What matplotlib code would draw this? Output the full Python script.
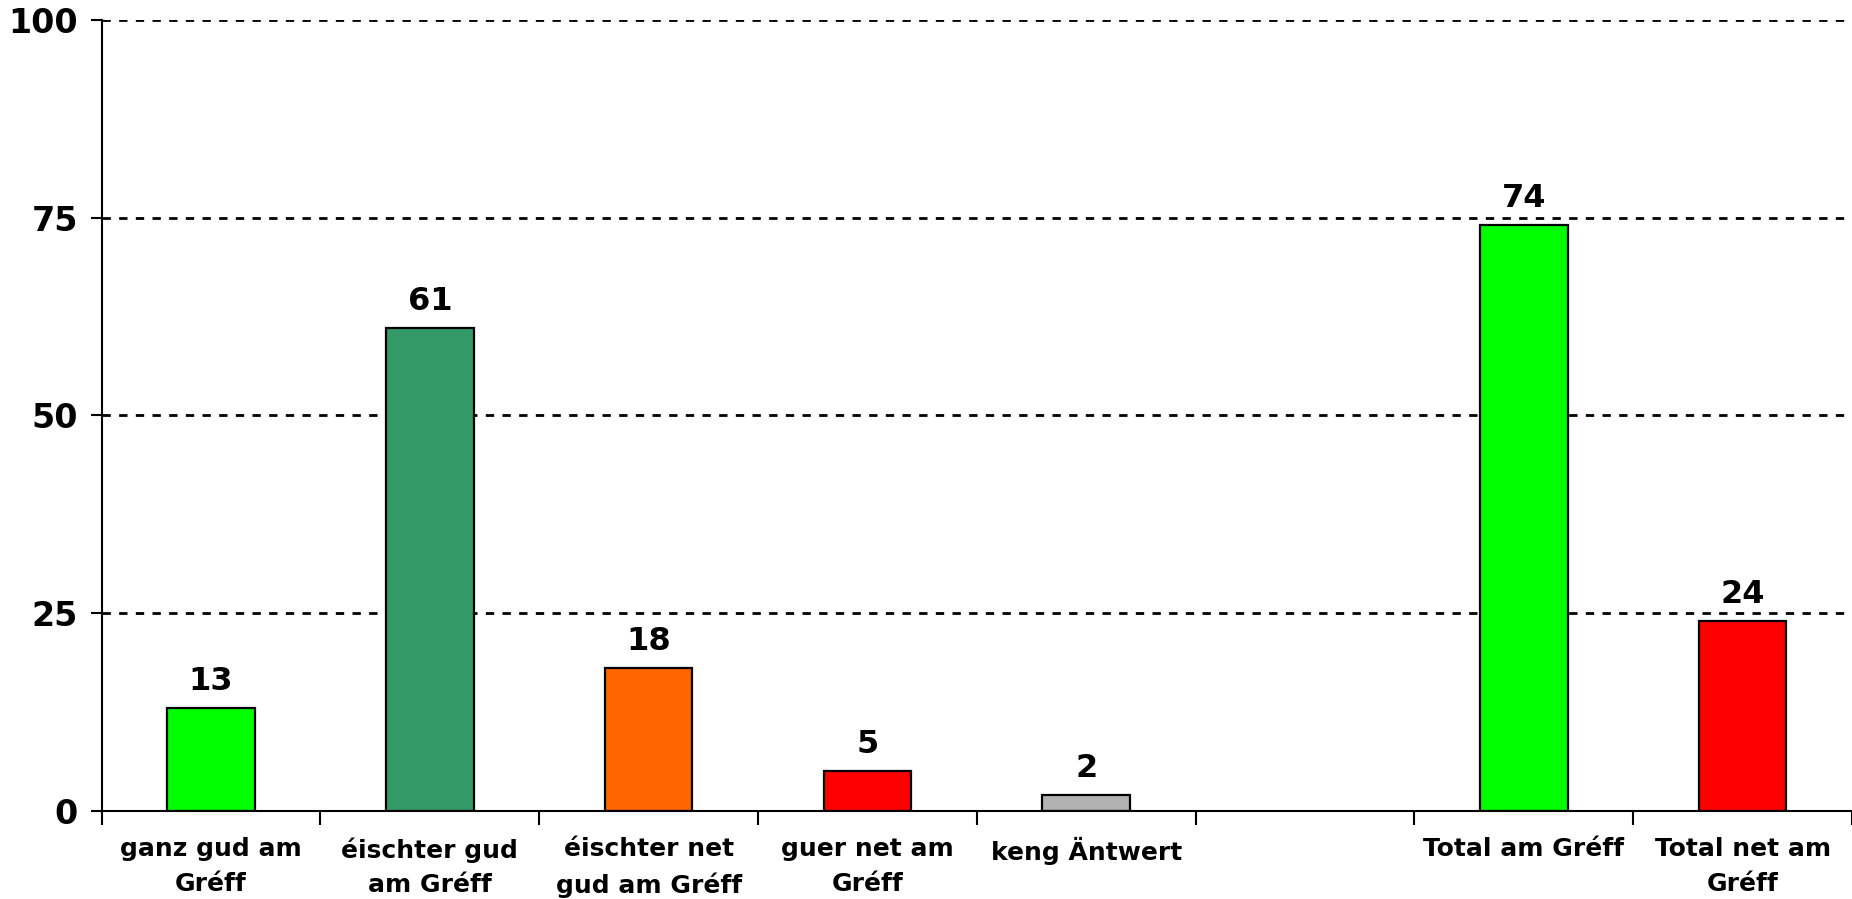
import numpy as np
import matplotlib
matplotlib.use('Agg')
import matplotlib.pyplot as plt

categories = ['ganz gud am\nGréff', 'éischter gud\nam Gréff', 'éischter net\ngud am Gréff',
              'guer net am\nGréff', 'keng Äntwert', '', 'Total am Gréff', 'Total net am\nGréff']
values = [13, 61, 18, 5, 2, np.nan, 74, 24]
colors = ['#00ff00', '#339966', '#ff6600', '#ff0000', '#b2b2b2', 'white', '#00ff00', '#ff0000']
y_ticks = [0, 25, 50, 75, 100]

plt.rcParams['font.family'] = ['DejaVu Sans']
plt.rcParams['font.weight'] = 'bold'

fig = plt.figure(figsize=(18.52, 8.99), dpi=100)
ax = fig.add_axes([0.0549, 0.098, 0.9451, 0.880])

x = np.arange(len(categories)) + 0.5
ax.bar(x, values, width=0.4, color=colors, edgecolor='black', linewidth=1.6, zorder=3)

# value labels
for xi, v in zip(x, values):
    if np.isnan(v):
        continue
    ax.text(xi, v + 1.4, '{:d}'.format(int(v)), ha='center', va='bottom',
            fontsize=23, fontweight='bold')

ax.set_xlim(0, len(categories))
ax.set_ylim(0, 100)
ax.set_yticks(y_ticks)
ax.set_yticklabels([str(t) for t in y_ticks], fontsize=24, fontweight='bold')
ax.tick_params(axis='y', length=8, width=1.5, pad=9, direction='out')

# boundary ticks between categories, labels centred under bars
ax.set_xticks(np.arange(len(categories) + 1))
ax.set_xticklabels([])
ax.set_xticks(x, minor=True)
ax.set_xticklabels(categories, minor=True, fontsize=18, fontweight='bold', linespacing=1.55)
ax.tick_params(axis='x', which='major', length=10, width=1.5, direction='out')
ax.tick_params(axis='x', which='minor', length=0, pad=19)

for t in y_ticks[1:]:
    ax.axhline(t, color='black', linestyle=(0, (3, 3)), linewidth=2.0, zorder=1)

ax.spines['top'].set_visible(False)
ax.spines['right'].set_visible(False)
ax.spines['left'].set_linewidth(1.5)
ax.spines['bottom'].set_linewidth(1.5)
ax.spines['bottom'].set_zorder(4)

fig.savefig('out.png', dpi=100)
